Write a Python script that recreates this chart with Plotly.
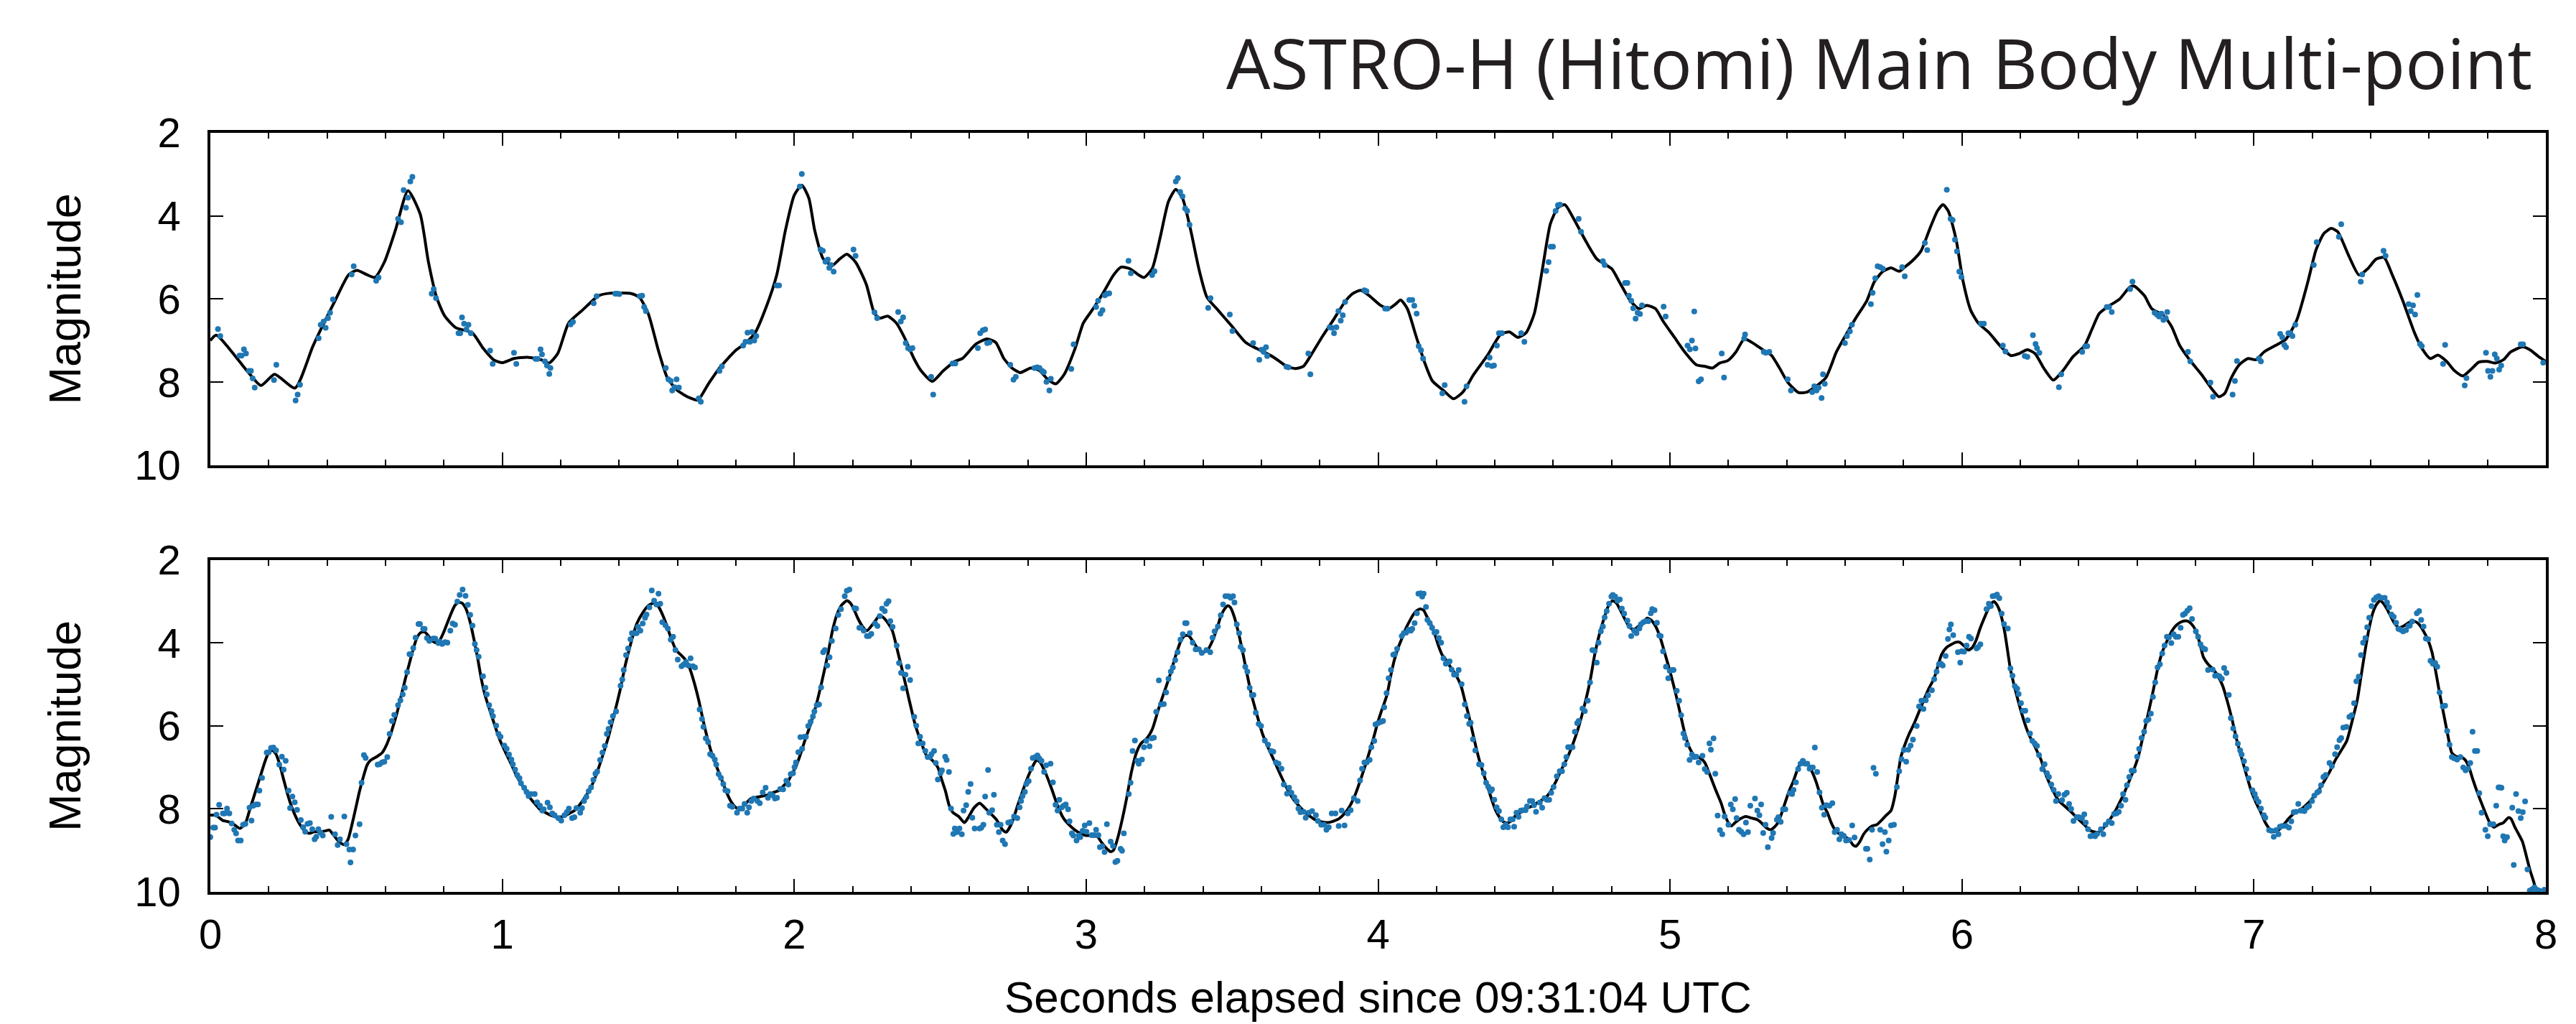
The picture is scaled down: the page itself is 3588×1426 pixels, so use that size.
import plotly.graph_objects as go

TITLE = "ASTRO-H (Hitomi) Main Body Multi-point"
X_LABEL = "Seconds elapsed since 09:31:04 UTC"
Y_LABEL = "Magnitude"
X_TICKS = [0, 1, 2, 3, 4, 5, 6, 7, 8]
Y_TICKS = [2, 4, 6, 8, 10]

# fitted light curve, upper panel (seconds, magnitude)
TOP_LINE = [(0.000,7.00),(0.020,6.87),(0.126,7.73),(0.173,8.08),(0.220,7.81),(0.290,8.14),(0.352,7.12),(0.427,6.04),(0.474,5.41),(0.502,5.31),(0.563,5.48),(0.596,5.11),(0.634,4.34),(0.677,3.39),(0.719,3.96),(0.747,5.11),(0.775,5.96),(0.803,6.41),(0.841,6.69),(0.897,6.81),(0.935,7.19),(0.970,7.46),(1.000,7.53),(1.040,7.43),(1.086,7.40),(1.133,7.46),(1.160,7.54),(1.190,7.31),(1.227,6.58),(1.274,6.27),(1.330,5.92),(1.368,5.86),(1.443,5.87),(1.470,5.96),(1.500,6.35),(1.536,7.27),(1.565,7.89),(1.600,8.20),(1.640,8.37),(1.670,8.43),(1.706,8.04),(1.744,7.66),(1.800,7.23),(1.830,7.08),(1.866,6.81),(1.904,6.19),(1.940,5.42),(1.970,4.34),(2.000,3.50),(2.026,3.26),(2.050,3.57),(2.070,4.34),(2.100,5.04),(2.130,5.19),(2.155,5.04),(2.180,4.92),(2.210,5.11),(2.247,5.65),(2.275,6.35),(2.294,6.46),(2.320,6.41),(2.350,6.58),(2.380,6.96),(2.410,7.43),(2.435,7.73),(2.473,7.98),(2.510,7.73),(2.550,7.50),(2.576,7.43),(2.623,7.08),(2.660,6.96),(2.690,7.04),(2.718,7.43),(2.746,7.66),(2.774,7.77),(2.810,7.66),(2.840,7.72),(2.868,7.93),(2.896,8.04),(2.925,7.81),(2.962,7.19),(2.990,6.58),(3.020,6.27),(3.056,5.88),(3.094,5.42),(3.120,5.23),(3.150,5.27),(3.180,5.42),(3.198,5.48),(3.226,5.27),(3.254,4.50),(3.282,3.65),(3.307,3.36),(3.330,3.57),(3.358,4.34),(3.386,5.27),(3.414,5.96),(3.452,6.27),(3.500,6.66),(3.546,7.04),(3.584,7.19),(3.640,7.39),(3.687,7.62),(3.716,7.67),(3.744,7.62),(3.770,7.35),(3.810,6.89),(3.847,6.50),(3.885,6.08),(3.913,5.87),(3.940,5.79),(3.970,5.92),(4.008,6.15),(4.036,6.23),(4.060,6.12),(4.077,6.02),(4.100,6.23),(4.130,6.89),(4.158,7.50),(4.186,7.97),(4.224,8.20),(4.258,8.40),(4.290,8.24),(4.328,7.81),(4.375,7.35),(4.420,6.85),(4.450,6.79),(4.478,6.92),(4.507,6.81),(4.535,6.35),(4.563,5.27),(4.590,4.19),(4.616,3.80),(4.640,3.73),(4.667,4.03),(4.715,4.65),(4.750,5.04),(4.800,5.27),(4.826,5.58),(4.864,6.04),(4.893,6.23),(4.920,6.15),(4.950,6.23),(4.977,6.54),(5.015,6.92),(5.050,7.27),(5.090,7.58),(5.120,7.62),(5.145,7.66),(5.170,7.54),(5.198,7.48),(5.226,7.27),(5.254,6.96),(5.280,7.04),(5.320,7.23),(5.347,7.35),(5.375,7.66),(5.403,8.00),(5.440,8.25),(5.468,8.24),(5.496,8.12),(5.534,7.89),(5.570,7.27),(5.600,6.89),(5.636,6.46),(5.674,6.04),(5.700,5.58),(5.730,5.33),(5.757,5.25),(5.785,5.33),(5.804,5.23),(5.830,5.08),(5.860,4.84),(5.888,4.34),(5.916,3.88),(5.935,3.73),(5.953,3.88),(5.980,4.57),(6.004,5.58),(6.030,6.27),(6.056,6.58),(6.093,6.81),(6.130,7.12),(6.168,7.36),(6.196,7.31),(6.224,7.22),(6.250,7.31),(6.280,7.66),(6.313,7.95),(6.345,7.73),(6.380,7.39),(6.420,7.12),(6.445,6.73),(6.470,6.35),(6.500,6.18),(6.540,6.00),(6.575,5.71),(6.590,5.69),(6.625,5.92),(6.650,6.23),(6.690,6.39),(6.718,6.66),(6.746,7.12),(6.784,7.50),(6.820,7.81),(6.860,8.20),(6.880,8.35),(6.900,8.27),(6.923,7.89),(6.950,7.58),(6.980,7.43),(7.007,7.46),(7.035,7.27),(7.073,7.12),(7.110,6.96),(7.147,6.50),(7.185,5.58),(7.213,4.81),(7.240,4.42),(7.265,4.30),(7.287,4.38),(7.325,4.96),(7.360,5.42),(7.390,5.27),(7.418,5.04),(7.446,5.00),(7.474,5.42),(7.510,6.04),(7.550,6.81),(7.576,7.19),(7.604,7.43),(7.630,7.35),(7.660,7.50),(7.688,7.73),(7.716,7.85),(7.744,7.69),(7.770,7.52),(7.800,7.50),(7.827,7.54),(7.855,7.46),(7.880,7.27),(7.920,7.15),(7.948,7.23),(7.976,7.39),(8.000,7.50)]

# measured points, upper panel
TOP_POINTS = [(0.026,6.72),(0.034,6.89),(0.100,7.36),(0.107,7.36),(0.115,7.21),(0.122,7.31),(0.132,7.73),(0.139,7.73),(0.145,7.91),(0.152,8.13),(0.218,7.95),(0.226,7.58),(0.292,8.44),(0.299,8.30),(0.307,8.06),(0.371,6.94),(0.378,6.62),(0.388,6.54),(0.395,6.69),(0.403,6.46),(0.410,6.33),(0.420,6.01),(0.484,5.41),(0.491,5.21),(0.568,5.56),(0.576,5.48),(0.643,4.07),(0.653,4.15),(0.662,3.38),(0.670,3.80),(0.677,3.56),(0.685,3.17),(0.692,3.06),(0.758,5.87),(0.765,5.76),(0.773,5.98),(0.850,6.82),(0.856,6.82),(0.862,6.44),(0.869,6.59),(0.877,6.73),(0.884,6.62),(0.892,6.82),(0.958,7.24),(0.967,7.56),(1.040,7.29),(1.048,7.56),(1.114,7.44),(1.121,7.44),(1.131,7.21),(1.136,7.33),(1.146,7.50),(1.153,7.60),(1.161,7.80),(1.165,7.66),(1.234,6.61),(1.242,6.55),(1.313,6.10),(1.323,5.93),(1.387,5.87),(1.394,5.87),(1.401,5.88),(1.471,5.93),(1.479,5.92),(1.486,6.19),(1.492,6.29),(1.560,7.66),(1.569,7.93),(1.577,7.97),(1.582,8.20),(1.590,8.12),(1.597,7.93),(1.605,8.13),(1.673,8.39),(1.680,8.47),(1.744,7.73),(1.752,7.62),(1.825,7.12),(1.833,7.03),(1.840,6.81),(1.848,7.03),(1.855,6.79),(1.863,7.00),(1.870,6.89),(1.940,5.67),(1.948,5.67),(2.019,3.29),(2.026,2.99),(2.090,4.81),(2.098,4.84),(2.107,5.10),(2.115,5.05),(2.120,5.25),(2.126,5.18),(2.135,5.34),(2.203,4.81),(2.210,4.96),
(2.275,6.32),(2.284,6.46),(2.356,6.31),(2.365,6.54),(2.373,6.44),(2.382,7.06),(2.390,7.18),(2.397,7.21),(2.405,7.18),(2.469,7.87),(2.476,8.30),(2.542,7.55),(2.552,7.55),(2.629,7.18),(2.637,6.82),(2.646,6.75),(2.654,6.73),(2.661,7.06),(2.669,7.04),(2.740,7.58),(2.751,7.94),(2.759,7.87),(2.823,7.66),(2.832,7.64),(2.840,7.66),(2.849,7.73),(2.855,7.76),(2.864,7.99),(2.874,8.20),(2.879,7.92),(2.949,7.68),(2.957,7.09),(3.034,6.19),(3.041,6.04),(3.049,6.35),(3.056,6.27),(3.064,5.91),(3.072,5.87),(3.079,5.86),(3.145,5.08),(3.153,5.38),(3.226,5.42),(3.234,5.33),(3.307,3.17),(3.314,3.09),(3.322,3.42),(3.330,3.53),(3.339,3.82),(3.346,3.88),(3.354,4.21),(3.418,6.21),(3.426,5.98),(3.492,6.37),(3.501,6.77),(3.572,7.06),(3.593,7.46),(3.601,7.22),(3.608,7.27),(3.616,7.16),(3.620,7.37),(3.686,7.63),(3.693,7.64),(3.761,7.31),(3.768,7.81),(3.834,6.68),(3.842,6.69),(3.849,6.82),(3.857,6.68),(3.864,6.29),(3.872,6.52),(3.879,6.39),(3.887,6.07),(3.953,5.79),(3.960,5.81),(4.024,6.23),(4.032,6.23),(4.107,6.02),(4.117,6.02),(4.124,6.16),(4.132,6.35),(4.139,7.13),(4.147,7.23),(4.154,7.43),(4.220,8.27),(4.228,8.07),(4.296,8.47),(4.303,8.10),(4.375,7.58),(4.382,7.41),(4.390,7.61),(4.397,7.60),(4.407,7.12),(4.414,6.82),(4.424,6.82),(4.490,6.82),(4.501,7.03),(4.576,5.32),(4.584,5.11),(4.591,4.74),(4.599,4.74),(4.608,3.88),(4.616,3.74),(4.623,3.73),(4.687,4.07),(4.695,4.38),(4.770,5.09),(4.776,5.18),(4.846,5.61),(4.854,5.61),(4.859,5.92),(4.867,6.04),(4.874,6.22),(4.882,6.47),(4.889,6.33),(4.897,6.36),(4.904,6.15),(4.978,6.18),(4.985,6.42),(5.060,7.12),(5.068,7.21),(5.075,7.00),(5.083,6.30),(5.087,7.19),(5.098,7.98),(5.106,7.93),(5.177,7.31),(5.185,7.89),
(5.254,6.95),(5.257,6.85),(5.321,7.27),(5.328,7.29),(5.340,7.27),(5.403,7.93),(5.414,8.20),(5.487,8.24),(5.494,8.10),(5.502,8.20),(5.509,8.13),(5.519,8.38),(5.524,7.81),(5.530,8.04),(5.599,7.06),(5.606,6.89),(5.616,6.78),(5.623,6.62),(5.688,6.12),(5.694,5.85),(5.703,5.50),(5.711,5.21),(5.720,5.23),(5.729,5.27),(5.795,5.23),(5.804,5.45),(5.873,4.65),(5.881,4.82),(5.948,3.37),(5.961,4.07),(5.968,4.10),(5.976,4.57),(5.983,4.85),(5.991,5.34),(5.998,5.47),(6.065,6.59),(6.075,6.59),(6.140,7.12),(6.149,7.26),(6.215,7.37),(6.224,7.39),(6.243,6.87),(6.252,7.08),(6.257,7.18),(6.265,7.29),(6.332,8.12),(6.340,7.81),(6.412,7.27),(6.422,7.14),(6.429,7.13),(6.496,6.19),(6.504,6.19),(6.513,6.31),(6.576,5.76),(6.584,5.58),(6.660,6.33),(6.668,6.37),(6.675,6.42),(6.683,6.35),(6.690,6.50),(6.698,6.46),(6.703,6.31),(6.774,7.27),(6.782,7.50),(6.851,8.01),(6.860,8.35),(6.927,8.30),(6.935,7.97),(6.942,7.49),(7.017,7.43),(7.024,7.50),(7.090,6.84),(7.097,6.92),(7.104,7.10),(7.110,7.16),(7.118,6.82),(7.125,6.82),(7.132,6.89),(7.142,6.62),(7.205,5.18),(7.215,4.63),(7.291,4.50),(7.299,4.20),(7.366,5.58),(7.371,5.41),(7.444,4.84),(7.451,4.96),(7.530,6.12),(7.537,6.29),(7.545,6.15),(7.552,6.37),(7.560,5.90),(7.569,7.08),(7.575,7.13),(7.648,7.56),(7.655,7.10),(7.722,8.08),(7.728,7.90),(7.795,7.29),(7.802,7.73),(7.810,7.87),(7.817,7.73),(7.825,7.33),(7.832,7.43),(7.840,7.70),(7.847,7.60),(7.914,7.09),(7.922,7.09),(7.991,7.53)]

# fitted light curve, lower panel
BOTTOM_LINE = [(0.000,8.15),(0.017,8.15),(0.030,8.21),(0.043,8.28),(0.062,8.31),(0.082,8.38),(0.101,8.47),(0.121,8.33),(0.134,8.04),(0.147,7.75),(0.160,7.46),(0.173,7.17),(0.186,6.88),(0.199,6.65),(0.212,6.58),(0.225,6.68),(0.238,6.94),(0.251,7.29),(0.264,7.63),(0.277,7.92),(0.290,8.15),(0.307,8.38),(0.323,8.53),(0.338,8.59),(0.355,8.55),(0.375,8.55),(0.394,8.53),(0.407,8.51),(0.420,8.61),(0.433,8.73),(0.446,8.82),(0.459,8.86),(0.472,8.73),(0.485,8.38),(0.498,7.98),(0.511,7.57),(0.524,7.23),(0.537,6.94),(0.550,6.82),(0.570,6.74),(0.589,6.64),(0.602,6.48),(0.615,6.25),(0.628,5.96),(0.641,5.64),(0.654,5.26),(0.668,4.86),(0.681,4.51),(0.694,4.17),(0.707,3.88),(0.720,3.75),(0.733,3.73),(0.746,3.82),(0.759,3.94),(0.772,3.99),(0.785,3.94),(0.798,3.76),(0.811,3.53),(0.824,3.30),(0.837,3.10),(0.850,3.02),(0.863,3.04),(0.876,3.18),(0.889,3.47),(0.902,3.88),(0.915,4.34),(0.928,4.86),(0.941,5.26),(0.954,5.55),(0.973,5.96),(0.993,6.36),(1.012,6.65),(1.032,6.94),(1.051,7.23),(1.071,7.46),(1.090,7.69),(1.110,7.86),(1.129,8.01),(1.149,8.09),(1.168,8.16),(1.188,8.20),(1.208,8.18),(1.227,8.12),(1.247,8.04),(1.266,7.89),(1.286,7.69),(1.305,7.46),(1.325,7.11),(1.344,6.71),(1.364,6.25),(1.383,5.73),(1.403,5.15),(1.422,4.51),(1.442,3.96),(1.461,3.53),(1.481,3.27),(1.500,3.10),(1.517,3.04),(1.533,3.10),(1.546,3.27),(1.561,3.53),(1.578,3.88),(1.595,4.17),(1.611,4.28),(1.627,4.40),(1.640,4.57),(1.656,4.92),(1.673,5.38),(1.689,5.90),(1.705,6.36),(1.721,6.74),(1.738,7.05),(1.754,7.34),(1.770,7.63),(1.787,7.86),(1.803,7.98),(1.819,7.97),(1.835,7.86),(1.852,7.75),(1.871,7.72),(1.891,7.69),(1.910,7.66),(1.930,7.60),(1.949,7.55),(1.965,7.43),(1.978,7.34),(1.991,7.17),(2.004,7.00),(2.017,6.77),(2.036,6.36),(2.056,5.96),(2.075,5.50),(2.095,4.92),(2.115,4.28),(2.131,3.70),(2.147,3.30),(2.163,3.08),(2.180,2.98),(2.193,3.04),(2.206,3.21),(2.219,3.42),(2.236,3.62),(2.249,3.70),(2.264,3.59),(2.280,3.44),(2.293,3.33),(2.306,3.39),(2.316,3.47),(2.336,3.70),(2.355,4.22),(2.375,4.80),(2.394,5.38),(2.414,5.96),(2.433,6.36),(2.453,6.71),(2.472,6.82),(2.492,7.00),(2.505,7.29),(2.518,7.57),(2.531,7.92),(2.544,8.09),(2.563,8.18),(2.583,8.33),(2.596,8.21),(2.615,7.98),(2.635,7.86),(2.654,7.98),(2.674,8.12),(2.694,8.27),(2.713,8.50),(2.726,8.56),(2.746,8.33),(2.765,7.92),(2.785,7.52),(2.804,7.17),(2.824,6.88),(2.830,6.82),(2.843,6.88),(2.863,7.17),(2.882,7.52),(2.902,7.92),(2.921,8.21),(2.941,8.38),(2.960,8.50),(2.980,8.59),(2.999,8.64),(3.019,8.64),(3.039,8.67),(3.051,8.79),(3.071,8.96),(3.084,9.03),(3.094,8.99),(3.107,8.73),(3.123,8.27),(3.140,7.69),(3.155,7.11),(3.172,6.65),(3.188,6.42),(3.208,6.30),(3.227,6.07),(3.247,5.61),(3.266,5.21),(3.286,4.80),(3.305,4.34),(3.325,3.94),(3.338,3.82),(3.351,3.82),(3.364,3.94),(3.383,4.14),(3.403,4.22),(3.416,4.17),(3.433,3.94),(3.448,3.65),(3.461,3.36),(3.474,3.18),(3.485,3.10),(3.494,3.14),(3.507,3.36),(3.520,3.70),(3.533,4.11),(3.546,4.57),(3.565,5.21),(3.585,5.73),(3.604,6.19),(3.624,6.53),(3.643,6.82),(3.669,7.23),(3.689,7.52),(3.708,7.75),(3.728,7.92),(3.748,8.07),(3.767,8.18),(3.787,8.27),(3.806,8.31),(3.826,8.33),(3.845,8.30),(3.865,8.24),(3.884,8.12),(3.904,7.92),(3.923,7.63),(3.943,7.23),(3.962,6.82),(3.984,6.30),(3.997,5.96),(4.010,5.67),(4.030,5.26),(4.043,4.80),(4.056,4.40),(4.069,4.11),(4.082,3.88),(4.095,3.65),(4.108,3.47),(4.121,3.31),(4.134,3.21),(4.147,3.18),(4.156,3.21),(4.167,3.36),(4.180,3.53),(4.193,3.76),(4.206,4.05),(4.219,4.28),(4.232,4.40),(4.247,4.57),(4.264,4.74),(4.284,5.03),(4.297,5.38),(4.310,5.73),(4.323,6.13),(4.336,6.53),(4.349,6.88),(4.362,7.17),(4.375,7.46),(4.388,7.75),(4.401,8.01),(4.414,8.18),(4.427,8.30),(4.442,8.34),(4.459,8.27),(4.472,8.15),(4.492,8.07),(4.511,7.98),(4.531,7.92),(4.550,7.83),(4.570,7.75),(4.589,7.60),(4.609,7.34),(4.628,7.05),(4.648,6.77),(4.668,6.42),(4.687,6.02),(4.707,5.50),(4.726,4.92),(4.742,4.28),(4.759,3.76),(4.776,3.36),(4.791,3.07),(4.804,2.98),(4.817,3.04),(4.830,3.21),(4.843,3.39),(4.856,3.56),(4.869,3.66),(4.882,3.65),(4.898,3.56),(4.911,3.48),(4.921,3.40),(4.934,3.44),(4.950,3.59),(4.967,3.88),(4.986,4.34),(5.002,4.74),(5.019,5.21),(5.036,5.73),(5.051,6.19),(5.067,6.53),(5.084,6.72),(5.103,6.77),(5.119,6.88),(5.136,7.17),(5.155,7.52),(5.175,7.86),(5.188,8.15),(5.201,8.35),(5.210,8.41),(5.223,8.33),(5.240,8.24),(5.260,8.18),(5.279,8.22),(5.299,8.26),(5.312,8.33),(5.327,8.44),(5.344,8.50),(5.357,8.44),(5.370,8.33),(5.383,8.09),(5.396,7.81),(5.409,7.55),(5.422,7.34),(5.435,7.08),(5.448,6.88),(5.461,6.87),(5.474,6.94),(5.487,7.11),(5.500,7.34),(5.513,7.63),(5.526,7.92),(5.539,8.09),(5.552,8.33),(5.565,8.50),(5.578,8.59),(5.598,8.67),(5.613,8.73),(5.627,8.87),(5.637,8.90),(5.650,8.79),(5.663,8.61),(5.676,8.50),(5.692,8.41),(5.708,8.38),(5.725,8.27),(5.741,8.15),(5.757,8.04),(5.770,7.69),(5.780,7.23),(5.790,6.77),(5.803,6.48),(5.819,6.19),(5.835,5.96),(5.852,5.67),(5.869,5.38),(5.887,5.09),(5.904,4.86),(5.917,4.57),(5.930,4.28),(5.947,4.11),(5.979,3.98),(5.992,3.98),(6.009,4.08),(6.022,4.17),(6.035,4.11),(6.048,3.94),(6.062,3.65),(6.075,3.42),(6.088,3.21),(6.101,3.04),(6.110,3.00),(6.118,3.06),(6.127,3.18),(6.136,3.39),(6.147,3.76),(6.157,4.22),(6.166,4.63),(6.179,5.03),(6.192,5.38),(6.206,5.73),(6.219,6.02),(6.232,6.25),(6.245,6.42),(6.258,6.62),(6.271,6.82),(6.284,7.11),(6.301,7.40),(6.317,7.63),(6.332,7.81),(6.350,7.92),(6.369,8.04),(6.385,8.15),(6.402,8.27),(6.419,8.38),(6.435,8.50),(6.450,8.55),(6.467,8.56),(6.480,8.50),(6.493,8.38),(6.511,8.21),(6.526,8.04),(6.539,7.86),(6.555,7.63),(6.572,7.34),(6.589,7.05),(6.605,6.71),(6.620,6.25),(6.637,5.73),(6.655,5.15),(6.670,4.63),(6.686,4.22),(6.703,3.94),(6.720,3.70),(6.736,3.56),(6.755,3.48),(6.772,3.47),(6.785,3.53),(6.801,3.70),(6.814,3.99),(6.827,4.34),(6.843,4.51),(6.860,4.63),(6.877,4.80),(6.893,5.03),(6.908,5.38),(6.925,5.84),(6.942,6.36),(6.958,6.77),(6.974,7.17),(6.991,7.57),(7.008,7.86),(7.024,8.09),(7.039,8.33),(7.056,8.50),(7.069,8.55),(7.086,8.50),(7.102,8.38),(7.122,8.21),(7.141,8.09),(7.161,8.01),(7.181,7.89),(7.200,7.75),(7.220,7.57),(7.240,7.34),(7.259,7.11),(7.279,6.82),(7.299,6.59),(7.318,6.36),(7.338,5.84),(7.354,5.38),(7.367,4.80),(7.380,4.22),(7.393,3.70),(7.406,3.30),(7.419,3.08),(7.432,2.98),(7.443,3.04),(7.456,3.18),(7.469,3.36),(7.482,3.53),(7.498,3.63),(7.515,3.58),(7.532,3.50),(7.547,3.47),(7.563,3.53),(7.580,3.70),(7.597,3.94),(7.610,4.22),(7.623,4.69),(7.636,5.21),(7.652,5.78),(7.665,6.25),(7.678,6.65),(7.694,6.74),(7.711,6.75),(7.724,6.82),(7.737,7.00),(7.750,7.29),(7.767,7.63),(7.783,7.92),(7.796,8.15),(7.809,8.35),(7.822,8.44),(7.838,8.38),(7.855,8.33),(7.872,8.21),(7.881,8.24),(7.894,8.44),(7.907,8.61),(7.920,8.79),(7.933,9.13),(7.946,9.48),(7.959,9.77),(7.966,9.97)]

# measured points, lower panel
BOTTOM_POINTS = [(0.000,8.68),(0.010,8.45),(0.016,8.45),(0.021,8.14),(0.030,7.90),(0.043,8.11),(0.049,8.11),(0.057,7.99),(0.065,8.11),(0.073,8.35),(0.082,8.50),(0.088,8.59),(0.095,8.76),(0.104,8.76),(0.112,8.38),(0.120,8.36),(0.134,7.97),(0.141,8.28),(0.147,7.92),(0.156,7.89),(0.163,7.89),(0.168,7.56),(0.177,7.25),(0.193,6.64),(0.200,6.63),(0.208,6.53),(0.216,6.52),(0.225,6.59),(0.236,6.93),(0.245,6.74),(0.251,7.05),(0.258,6.84),(0.268,7.56),(0.273,7.98),(0.281,7.70),(0.289,7.84),(0.297,8.02),(0.310,8.27),(0.318,8.44),(0.325,8.55),(0.333,8.36),(0.341,8.34),(0.349,8.49),(0.357,8.73),(0.363,8.67),(0.370,8.49),(0.377,8.57),(0.385,8.64),(0.414,8.19),(0.427,8.61),(0.436,8.87),(0.444,8.73),(0.459,8.18),(0.466,8.85),(0.476,8.98),(0.480,9.29),(0.489,8.98),(0.497,8.64),(0.511,8.37),(0.518,7.37),(0.526,6.70),(0.532,6.77),(0.573,6.93),(0.580,6.92),(0.588,6.88),(0.596,6.86),(0.606,6.75),(0.614,6.19),(0.622,5.88),(0.630,5.73),(0.643,5.50),(0.651,5.38),(0.659,5.24),(0.666,5.08),(0.674,4.70),(0.682,4.27),(0.687,4.27),(0.695,4.12),(0.703,3.87),(0.713,3.54),(0.718,3.54),(0.729,3.66),(0.734,3.66),(0.742,3.88),(0.750,3.95),(0.763,3.89),(0.770,3.89),(0.781,4.00),(0.786,3.97),(0.794,4.02),(0.804,3.98),(0.812,3.99),(0.822,3.70),(0.830,3.53),(0.838,3.56),(0.846,3.00),(0.854,2.84),(0.864,2.71),(0.874,2.86),(0.882,3.08),(0.890,3.32),(0.898,3.58),(0.906,4.02),(0.912,4.17),(0.919,4.33),(0.934,4.80),(0.942,5.08),(0.947,5.24),(0.955,5.50),(0.963,5.64),(0.968,5.76),(0.979,5.99),(0.987,6.19),(0.994,6.26),(1.007,6.47),(1.015,6.55),(1.023,6.69),(1.031,6.81),(1.036,6.92),(1.044,7.05),(1.051,7.18),(1.059,7.26),(1.064,7.38),(1.075,7.49),(1.083,7.59),(1.090,7.69),(1.098,7.64),(1.111,7.64),(1.119,7.84),(1.129,7.92),(1.137,8.04),(1.142,8.01),(1.155,7.85),(1.163,7.96),(1.171,8.11),(1.179,8.15),(1.192,8.22),(1.202,8.28),(1.213,8.15),(1.221,8.08),(1.228,7.99),(1.239,8.22),(1.247,8.20),(1.254,7.98),(1.267,8.09),(1.273,7.98),(1.280,7.81),(1.288,7.71),(1.296,7.57),(1.304,7.48),(1.312,7.30),(1.319,7.15),(1.325,7.10),(1.335,6.82),(1.343,6.64),(1.351,6.48),(1.358,6.19),(1.364,6.07),(1.371,5.91),(1.379,5.76),(1.390,5.65),(1.405,5.03),(1.411,4.88),(1.416,4.65),(1.424,4.29),(1.431,4.13),(1.439,3.91),(1.444,3.76),(1.452,3.76),(1.460,3.76),(1.465,3.61),(1.473,3.70),(1.481,3.53),(1.489,3.39),(1.494,3.31),(1.504,3.14),(1.512,2.73),(1.520,2.98),(1.528,3.07),(1.535,2.81),(1.541,3.05),(1.548,3.50),(1.559,3.57),(1.567,3.65),(1.577,3.92),(1.585,3.85),(1.593,4.17),(1.601,4.40),(1.614,4.56),(1.621,4.52),(1.629,4.46),(1.637,4.54),(1.645,4.37),(1.653,4.56),(1.660,4.59),(1.676,5.60),(1.684,5.83),(1.689,6.02),(1.697,6.30),(1.705,6.39),(1.712,6.68),(1.720,6.72),(1.728,6.81),(1.733,6.93),(1.741,7.16),(1.749,7.25),(1.757,7.40),(1.764,7.55),(1.772,7.57),(1.780,7.92),(1.788,7.95),(1.804,8.09),(1.813,7.99),(1.822,7.99),(1.830,7.88),(1.839,8.09),(1.845,7.96),(1.853,7.81),(1.861,7.75),(1.874,7.81),(1.882,7.86),(1.892,7.60),(1.902,7.49),(1.910,7.73),(1.918,7.64),(1.926,7.67),(1.934,7.75),(1.941,7.73),(1.952,7.52),(1.962,7.53),(1.973,7.32),(1.980,7.41),(1.988,7.16),(1.996,7.14),(2.001,6.99),(2.006,6.88),(2.014,6.63),(2.021,6.27),
(2.027,6.55),(2.035,6.26),(2.040,6.26),(2.048,6.00),(2.056,5.90),(2.064,5.77),(2.069,5.65),(2.077,5.50),(2.085,5.48),(2.092,5.07),(2.099,4.22),(2.105,4.17),(2.113,4.54),(2.121,4.34),(2.129,3.95),(2.142,3.65),(2.151,3.32),(2.160,3.18),(2.173,2.87),(2.180,2.74),(2.189,2.71),(2.206,3.16),(2.212,3.17),(2.223,3.63),(2.228,3.63),(2.238,3.70),(2.249,3.83),(2.256,3.83),(2.264,3.78),(2.277,3.53),(2.285,3.59),(2.293,3.35),(2.301,3.17),(2.310,3.23),(2.316,3.05),(2.323,2.99),(2.329,3.47),(2.337,3.61),(2.351,4.06),(2.359,4.48),(2.366,4.72),(2.373,5.09),(2.381,4.76),(2.389,4.57),(2.397,4.89),(2.411,5.78),(2.418,5.99),(2.425,6.42),(2.431,6.26),(2.440,6.42),(2.449,6.60),(2.457,6.75),(2.465,6.75),(2.470,6.68),(2.479,6.60),(2.485,6.89),(2.492,7.29),(2.501,7.14),(2.506,7.07),(2.517,6.74),(2.522,6.82),(2.530,7.11),(2.537,7.99),(2.545,8.60),(2.550,8.47),(2.558,8.56),(2.566,8.47),(2.574,8.61),(2.580,8.04),(2.589,7.91),(2.596,7.59),(2.604,7.40),(2.610,8.21),(2.618,8.47),(2.635,8.47),(2.641,8.45),(2.648,8.38),(2.654,7.70),(2.664,7.06),(2.668,8.09),(2.678,8.03),(2.684,7.66),(2.694,8.38),(2.701,8.56),(2.707,8.38),(2.714,8.76),(2.722,8.85),(2.733,8.33),(2.742,8.31),(2.753,8.18),(2.764,8.22),(2.772,7.96),(2.777,7.81),(2.782,7.69),(2.790,7.59),(2.795,7.40),(2.803,7.33),(2.811,7.03),(2.817,6.77),(2.826,6.75),(2.833,6.71),(2.839,6.78),(2.847,6.84),(2.856,7.11),(2.863,6.95),(2.878,6.91),(2.886,7.36),(2.895,7.90),(2.902,8.04),(2.908,7.78),(2.916,7.96),(2.923,7.92),(2.930,7.89),(2.938,8.01),(2.943,8.30),(2.951,8.59),(2.956,8.64),(2.967,8.76),(2.975,8.64),(2.980,8.68),(2.988,8.53),(2.995,8.40),(3.001,8.55),(3.011,8.34),(3.019,8.63),(3.027,8.63),(3.034,8.50),(3.042,8.63),(3.047,8.92),(3.055,8.90),(3.063,9.04),(3.071,8.37),(3.084,8.79),(3.092,8.89),(3.100,9.28),(3.107,9.25),(3.118,8.96),(3.123,9.01),(3.129,8.59),(3.146,7.64),(3.152,7.37),(3.159,6.60),(3.167,6.35),(3.175,6.84),(3.180,6.91),(3.191,6.81),(3.198,6.51),(3.206,6.36),(3.217,6.49),(3.224,6.30),(3.232,6.28),(3.240,5.66),(3.249,4.90),(3.256,5.48),(3.266,5.47),(3.274,5.19),(3.282,4.86),(3.290,4.69),(3.297,4.59),(3.305,4.41),(3.313,4.22),(3.323,3.92),(3.331,3.79),(3.339,3.52),(3.344,3.52),(3.355,3.76),(3.365,3.99),(3.375,4.15),(3.386,4.15),(3.396,4.24),(3.412,4.17),(3.425,4.22),(3.433,3.87),(3.440,3.72),(3.451,3.60),(3.461,3.33),(3.469,3.07),(3.477,2.87),(3.487,2.87),(3.495,2.91),(3.503,2.87),(3.508,3.02),(3.516,3.55),(3.524,3.76),(3.529,4.09),(3.537,4.17),(3.545,4.57),(3.552,4.69),(3.560,5.08),(3.568,5.26),(3.573,5.25),(3.581,5.68),(3.591,5.95),(3.599,6.00),(3.612,6.35),(3.623,6.45),(3.633,6.60),(3.641,6.62),(3.650,6.88),(3.659,6.91),(3.669,7.03),(3.677,7.41),(3.688,7.63),(3.695,7.49),(3.703,7.61),(3.713,7.72),(3.721,7.82),(3.727,7.99),(3.734,8.08),(3.745,8.07),(3.752,8.21),(3.763,8.09),(3.774,8.05),(3.787,8.15),(3.794,8.29),(3.805,8.38),(3.815,8.38),(3.823,8.50),(3.831,8.44),(3.841,8.11),(3.854,8.11),(3.865,8.41),(3.875,8.04),(3.885,8.40),(3.896,8.11),(3.906,8.03),(3.917,7.74),(3.930,7.81),(3.938,7.31),(3.945,7.03),(3.953,6.88),(3.961,6.88),
(3.971,6.82),(3.977,6.51),(3.987,6.36),(3.991,5.96),(4.000,5.93),(4.010,5.90),(4.017,5.88),(4.021,5.55),(4.029,5.21),(4.036,4.85),(4.044,4.65),(4.052,4.28),(4.057,4.27),(4.065,4.14),(4.081,3.83),(4.088,3.76),(4.096,3.75),(4.104,3.68),(4.112,3.70),(4.117,3.66),(4.125,3.52),(4.133,3.28),(4.138,2.81),(4.146,2.80),(4.151,2.88),(4.156,2.81),(4.164,3.13),(4.169,3.44),(4.177,3.52),(4.185,3.63),(4.193,3.75),(4.200,3.73),(4.208,3.88),(4.216,3.99),(4.224,4.37),(4.232,4.50),(4.237,4.48),(4.245,4.44),(4.252,4.64),(4.260,4.76),(4.268,4.76),(4.276,4.65),(4.286,4.99),(4.297,5.48),(4.304,5.76),(4.312,5.95),(4.317,5.92),(4.325,6.32),(4.333,6.59),(4.346,6.92),(4.354,6.94),(4.362,7.14),(4.370,7.37),(4.377,7.46),(4.385,7.57),(4.390,7.53),(4.398,7.78),(4.406,7.96),(4.414,8.05),(4.422,8.25),(4.429,8.44),(4.437,8.38),(4.445,8.44),(4.453,8.25),(4.461,8.25),(4.466,8.43),(4.474,8.09),(4.481,8.19),(4.489,8.04),(4.497,8.03),(4.505,8.03),(4.510,7.94),(4.520,7.81),(4.528,7.81),(4.534,7.91),(4.541,8.07),(4.554,7.85),(4.562,7.97),(4.570,7.74),(4.578,7.78),(4.586,7.78),(4.593,7.61),(4.601,7.47),(4.612,7.21),(4.622,7.09),(4.630,7.09),(4.638,6.92),(4.645,6.75),(4.651,6.51),(4.658,6.51),(4.666,6.51),(4.674,6.14),(4.682,5.93),(4.687,5.88),(4.700,5.58),(4.708,5.64),(4.718,5.39),(4.726,4.95),(4.734,4.17),(4.742,4.19),(4.749,4.47),(4.755,3.99),(4.763,3.72),(4.770,3.60),(4.776,3.38),(4.783,3.23),(4.791,3.05),(4.799,2.88),(4.804,2.84),(4.812,2.88),(4.820,2.98),(4.828,2.95),(4.835,3.17),(4.843,3.29),(4.854,3.46),(4.861,3.59),(4.867,3.83),(4.877,3.70),(4.885,3.76),(4.895,3.65),(4.900,3.55),(4.908,3.50),(4.916,3.47),(4.926,3.47),(4.934,3.28),(4.939,3.18),(4.947,3.21),(4.955,3.51),(4.963,3.82),(4.968,3.83),(4.976,4.20),(4.986,4.57),(4.994,4.85),(4.999,4.67),(5.007,4.65),(5.012,4.65),(5.023,5.15),(5.031,5.39),(5.038,5.74),(5.046,6.18),(5.051,6.29),(5.059,6.45),(5.067,6.82),(5.075,6.69),(5.083,6.75),(5.090,6.74),(5.098,6.88),(5.111,6.72),(5.119,7.04),(5.127,7.11),(5.135,6.42),(5.140,6.57),(5.149,6.30),(5.155,7.15),(5.163,8.16),(5.171,8.51),(5.179,8.61),(5.187,8.18),(5.200,8.38),(5.208,7.89),(5.215,8.01),(5.223,7.76),(5.228,8.22),(5.236,8.50),(5.244,8.55),(5.252,8.61),(5.260,8.33),(5.267,8.56),(5.275,7.92),(5.291,7.75),(5.299,8.04),(5.306,8.15),(5.312,7.89),(5.319,8.58),(5.327,8.38),(5.335,8.92),(5.348,8.70),(5.353,8.58),(5.366,8.26),(5.371,8.20),(5.379,8.31),(5.387,8.01),(5.395,8.01),(5.410,7.62),(5.418,7.64),(5.423,7.54),(5.431,7.36),(5.439,7.04),(5.447,6.91),(5.455,6.84),(5.463,6.91),(5.470,6.91),(5.478,7.03),(5.483,7.00),(5.489,7.00),(5.496,6.52),(5.504,7.11),(5.512,7.60),(5.520,7.97),(5.528,8.14),(5.535,7.91),(5.546,7.92),(5.556,7.86),(5.564,8.56),(5.572,8.50),(5.580,8.73),(5.587,8.61),(5.595,8.65),(5.603,8.76),(5.613,8.75),(5.624,8.40),(5.632,8.69),(5.671,8.96),(5.676,8.96),(5.684,9.22),(5.692,8.50),(5.697,7.01),(5.705,7.15),(5.720,8.50),(5.728,8.85),(5.736,8.56),(5.741,9.03),(5.749,8.76),(5.757,8.40),(5.767,8.38),(5.777,7.47),(5.785,7.09),(5.793,6.80),(5.801,6.58),(5.809,6.86),(5.816,6.57),(5.824,6.47),(5.832,6.33),(5.845,6.00),(5.853,5.53),(5.861,5.39),(5.868,5.59),(5.876,5.38),(5.884,5.26),(5.897,5.14),(5.905,4.87),(5.913,4.69),(5.921,4.51),(5.928,4.50),(5.934,4.54),(5.944,4.31),(5.952,3.90),(5.957,3.67),(5.962,3.55),(5.970,3.81),(5.986,4.22),(5.994,4.47),(5.999,4.20),(6.007,4.21),
(6.016,4.06),(6.024,3.85),(6.031,3.89),(6.050,4.13),(6.055,4.10),(6.063,4.03),(6.084,3.18),(6.092,3.05),(6.099,3.11),(6.105,2.87),(6.113,2.86),(6.120,2.83),(6.128,2.92),(6.136,3.29),(6.144,3.54),(6.157,3.65),(6.166,4.61),(6.173,4.79),(6.181,5.04),(6.189,5.10),(6.194,5.23),(6.202,5.45),(6.209,5.63),(6.217,5.63),(6.225,5.86),(6.233,6.18),(6.241,6.36),(6.249,6.42),(6.257,6.48),(6.264,6.70),(6.275,7.04),(6.283,6.92),(6.291,7.14),(6.298,7.23),(6.306,7.41),(6.314,7.54),(6.322,7.81),(6.330,7.64),(6.343,7.79),(6.351,7.66),(6.359,7.61),(6.367,7.88),(6.374,8.00),(6.382,8.29),(6.393,8.20),(6.401,8.20),(6.411,8.22),(6.419,8.13),(6.424,8.33),(6.432,8.49),(6.440,8.66),(6.448,8.64),(6.456,8.66),(6.463,8.60),(6.476,8.49),(6.484,8.61),(6.492,8.38),(6.503,8.30),(6.513,8.34),(6.521,8.12),(6.529,8.11),(6.537,8.07),(6.545,7.92),(6.552,7.64),(6.560,7.78),(6.565,7.43),(6.573,7.23),(6.581,7.08),(6.589,7.08),(6.600,6.74),(6.607,6.55),(6.615,6.29),(6.624,6.14),(6.631,5.88),(6.639,5.84),(6.647,5.70),(6.654,5.30),(6.662,4.95),(6.670,4.59),(6.678,4.51),(6.686,4.25),(6.694,4.06),(6.702,3.85),(6.709,3.86),(6.717,4.00),(6.725,3.79),(6.733,3.85),(6.741,3.85),(6.749,3.63),(6.757,3.32),(6.764,3.29),(6.772,3.22),(6.780,3.16),(6.788,3.42),(6.801,3.72),(6.809,3.85),(6.817,4.03),(6.825,4.12),(6.833,4.15),(6.843,4.65),(6.859,4.64),(6.867,4.79),(6.874,4.78),(6.882,4.80),(6.890,4.86),(6.898,4.60),(6.906,4.72),(6.914,5.25),(6.921,5.81),(6.929,6.06),(6.937,6.25),(6.945,6.43),(6.953,6.59),(6.958,6.69),(6.966,6.85),(6.974,7.04),(6.982,7.26),(6.995,7.55),(7.003,7.64),(7.008,7.75),(7.016,7.83),(7.024,7.99),(7.034,8.15),(7.039,8.21),(7.052,8.51),(7.060,8.53),(7.068,8.67),(7.076,8.51),(7.084,8.61),(7.089,8.43),(7.097,8.41),(7.110,8.41),(7.120,8.45),(7.128,8.30),(7.136,8.08),(7.144,8.07),(7.152,7.88),(7.160,8.04),(7.165,8.04),(7.173,8.05),(7.181,7.97),(7.189,7.93),(7.199,7.81),(7.207,7.68),(7.217,7.60),(7.223,7.57),(7.230,7.43),(7.238,7.23),(7.246,7.18),(7.259,6.89),(7.267,6.97),(7.278,6.68),(7.285,6.51),(7.293,6.34),(7.299,6.29),(7.306,6.04),(7.317,6.02),(7.327,5.78),(7.335,5.74),(7.343,5.45),(7.351,4.92),(7.359,4.81),(7.367,4.29),(7.374,3.99),(7.382,3.88),(7.388,3.62),(7.395,3.39),(7.403,3.11),(7.411,2.96),(7.419,2.90),(7.427,2.87),(7.437,2.91),(7.448,2.91),(7.456,3.02),(7.463,3.14),(7.471,3.31),(7.479,3.37),(7.487,3.51),(7.495,3.66),(7.503,3.68),(7.511,3.72),(7.521,3.69),(7.529,3.59),(7.534,3.58),(7.542,3.48),(7.558,3.28),(7.566,3.23),(7.573,3.44),(7.581,3.60),(7.589,3.89),(7.597,3.91),(7.605,4.43),(7.613,4.50),(7.621,4.48),(7.628,4.57),(7.636,5.19),(7.647,5.53),(7.655,5.51),(7.662,6.12),(7.670,6.45),(7.678,6.75),(7.686,6.78),(7.696,6.81),(7.707,6.75),(7.717,7.00),(7.725,7.07),(7.733,7.03),(7.741,6.89),(7.749,6.14),(7.757,6.60),(7.765,6.60),(7.772,7.62),(7.780,8.09),(7.793,8.50),(7.801,8.66),(7.809,8.37),(7.820,8.37),(7.830,7.92),(7.838,7.48),(7.843,7.48),(7.848,7.49),(7.854,8.66),(7.859,8.76),(7.867,8.68),(7.885,7.97),(7.890,9.35),(7.898,7.64),(7.906,8.05),(7.914,8.22),(7.921,8.08),(7.929,7.82),(7.937,9.46),(7.945,9.97),(7.953,9.94),(7.961,9.89),(7.969,9.95),(7.977,9.97),(7.995,9.95)]

BLUE = "#1f77b4"
FONT = "Liberation Sans, Arial, Helvetica, sans-serif"

fig = go.Figure()


def add_panel(line, points, xa, ya):
    lx, ly = zip(*line)
    px, py = zip(*points)
    fig.add_trace(go.Scatter(x=lx, y=ly, mode="lines", xaxis=xa, yaxis=ya,
                             line=dict(color="black", width=4, shape="spline", smoothing=0.6),
                             showlegend=False, hoverinfo="skip"))
    fig.add_trace(go.Scatter(x=px, y=py, mode="markers", xaxis=xa, yaxis=ya,
                             marker=dict(color=BLUE, size=8, line=dict(width=0)),
                             showlegend=False))


add_panel(TOP_LINE, TOP_POINTS, "x", "y")
add_panel(BOTTOM_LINE, BOTTOM_POINTS, "x2", "y2")

axis_common = dict(showline=True, linewidth=3.5, linecolor="black", mirror="ticks",
                   ticks="inside", ticklen=18, tickwidth=1.8, tickcolor="black",
                   showgrid=False, zeroline=False,
                   tickfont=dict(family=FONT, size=58, color="black"))

xcommon = dict(axis_common, range=[0, 8], tickmode="array", tickvals=X_TICKS,
               ticktext=[str(v) for v in X_TICKS],
               minor=dict(tickmode="linear", tick0=0, dtick=0.2, ticks="inside",
                          ticklen=8, tickwidth=1.6, tickcolor="black", showgrid=False))
ycommon = dict(axis_common, range=[10, 2], tickmode="array", tickvals=Y_TICKS,
               ticktext=[str(v) for v in Y_TICKS], ticklabelstandoff=26)

TOP_DOM = [0.562, 1.0]
BOT_DOM = [0.0, 0.4371]

fig.update_layout(
    width=3588, height=1426,
    paper_bgcolor="white", plot_bgcolor="white",
    margin=dict(l=285, r=50, t=177, b=192),
    xaxis=dict(xcommon, domain=[0, 1], anchor="y", showticklabels=False, matches="x2"),
    xaxis2=dict(xcommon, domain=[0, 1], anchor="y2", showticklabels=True, ticklabelstandoff=6),
    yaxis=dict(ycommon, domain=TOP_DOM, anchor="x"),
    yaxis2=dict(ycommon, domain=BOT_DOM, anchor="x2"),
    showlegend=False,
    annotations=[
        dict(text=TITLE, xref="paper", yref="paper", x=0.9948, y=1.0937,
             xanchor="right", yanchor="middle", showarrow=False,
             font=dict(family="Open Sans, sans-serif", size=97, color="#231f20")),
        dict(text=Y_LABEL, xref="paper", yref="paper", x=-0.0624, y=0.781,
             xanchor="center", yanchor="middle", textangle=-90, showarrow=False,
             font=dict(family=FONT, size=63, color="black")),
        dict(text=Y_LABEL, xref="paper", yref="paper", x=-0.0624, y=0.2185,
             xanchor="center", yanchor="middle", textangle=-90, showarrow=False,
             font=dict(family=FONT, size=63, color="black")),
        dict(text=X_LABEL, xref="paper", yref="paper", x=0.5, y=-0.139,
             xanchor="center", yanchor="middle", showarrow=False,
             font=dict(family=FONT, size=62, color="black")),
    ],
)

fig.write_html("out.html")
